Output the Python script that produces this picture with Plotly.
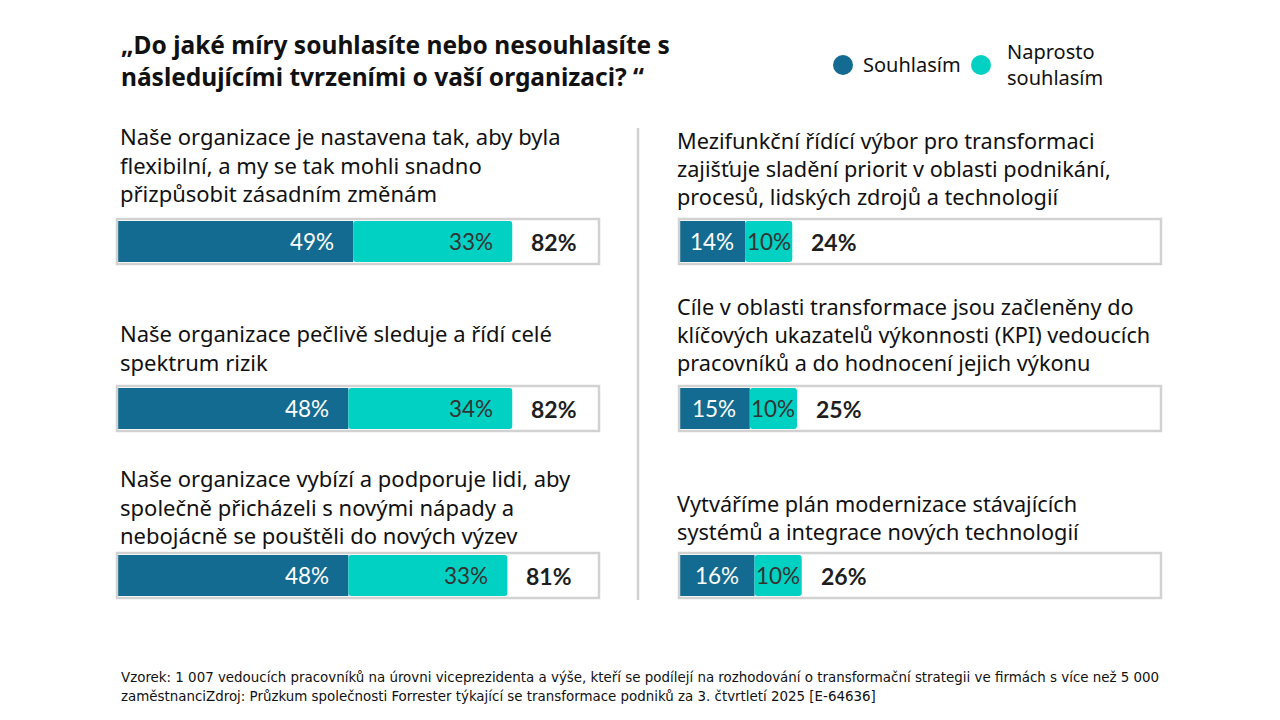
import plotly.graph_objects as go

W, H = 1280, 720

DARK = "#136b91"
TEAL = "#00d1c3"
GRID = "#d2d2d2"

title = "„Do jaké míry souhlasíte nebo nesouhlasíte s<br>následujícími tvrzeními o vaší organizaci? “"
legend_names = ["Souhlasím", "Naprosto<br>souhlasím"]

left_statements = [
    "Naše organizace je nastavena tak, aby byla<br>flexibilní, a my se tak mohli snadno<br>přizpůsobit zásadním změnám",
    "Naše organizace pečlivě sleduje a řídí celé<br>spektrum rizik",
    "Naše organizace vybízí a podporuje lidi, aby<br>společně přicházeli s novými nápady a<br>nebojácně se pouštěli do nových výzev",
]
left_agree = [49, 48, 48]
left_strong = [33, 34, 33]
left_total = [82, 82, 81]

right_statements = [
    "Mezifunkční řídící výbor pro transformaci<br>zajišťuje sladění priorit v oblasti podnikání,<br>procesů, lidských zdrojů a technologií",
    "Cíle v oblasti transformace jsou začleněny do<br>klíčových ukazatelů výkonnosti (KPI) vedoucích<br>pracovníků a do hodnocení jejich výkonu",
    "Vytváříme plán modernizace stávajících<br>systémů a integrace nových technologií",
]
right_agree = [14, 15, 16]
right_strong = [10, 10, 10]
right_total = [24, 25, 26]

footer = ("Vzorek: 1 007 vedoucích pracovníků na úrovni viceprezidenta a výše, kteří se podílejí na rozhodování "
          "o transformační strategii ve firmách s více než 5 000<br>zaměstnanciZdroj: Průzkum společnosti Forrester "
          "týkající se transformace podniků za 3. čtvrtletí 2025 [E-64636]")

rows = [0, 1, 2]

# page body has an 8px margin, so shift everything back by that much
OFF = 8


def px(x):
    return (x - OFF) / W


def py(y):
    return 1 - (y - OFF) / H


TEXT_FONT = "Noto Sans, Open Sans, sans-serif"
NUM_FONT = "Lato, Noto Sans, sans-serif"

fig = go.Figure()

panels = [
    ("x", "y", left_agree, left_strong, left_total, left_statements, [134, 331, 476], 1, 22),
    ("x2", "y2", right_agree, right_strong, right_total, right_statements, [139, 305, 502], -4, 21.7),
]

BAR_W = 41 / 167
BOX_H = 45 / 167 / 2

for xa, ya, agree, strong, total, statements, text_y, tshift, tsize in panels:
    fig.add_trace(go.Bar(y=rows, x=agree, orientation="h", marker=dict(color=DARK, line_width=0),
                         width=BAR_W, xaxis=xa, yaxis=ya, showlegend=False, hoverinfo="skip"))
    fig.add_trace(go.Bar(y=rows, x=strong, base=agree, orientation="h", marker=dict(color=TEAL, line_width=0),
                         width=BAR_W, xaxis=xa, yaxis=ya, showlegend=False, hoverinfo="skip"))
    for i in rows:
        # outline box
        fig.add_shape(type="rect", xref=xa + " domain", yref=ya, x0=0, x1=1,
                      y0=i - BOX_H, y1=i + BOX_H, line=dict(color=GRID, width=2.5), layer="above")
        # segment labels
        for start, val, color in [(0, agree[i], "white"), (agree[i], strong[i], "#333333")]:
            if val >= 20:
                ax, anchor, shift = start + val, "right", -17
            else:
                ax, anchor, shift = start + val / 2, "center", 0
            fig.add_annotation(x=ax, y=i, xref=xa, yref=ya, text=f"{val}%", showarrow=False,
                               xanchor=anchor, xshift=shift,
                               font=dict(family=NUM_FONT, size=22.5, color=color))
        fig.add_annotation(x=total[i], y=i, xref=xa, yref=ya, text=f"<b>{total[i]}%</b>", showarrow=False,
                           xanchor="left", xshift=17, font=dict(family=NUM_FONT, size=23, color="#1e1e1e"))
        # statement text
        fig.add_annotation(x=0, y=py(text_y[i] - 15), xref=xa + " domain", yref="paper",
                           text=statements[i], showarrow=False, xanchor="left", yanchor="top",
                           xshift=tshift, align="left",
                           font=dict(family=TEXT_FONT, size=tsize, color="#111111"))

# divider
fig.add_shape(type="line", xref="paper", yref="paper", x0=px(638), x1=px(638), y0=py(128), y1=py(600),
              line=dict(color=GRID, width=2.5))

# title
fig.add_annotation(x=px(119), y=py(26), xref="paper", yref="paper", text=f"<b>{title}</b>",
                   showarrow=False, xanchor="left", yanchor="top", align="left",
                   font=dict(family=TEXT_FONT, size=24.5, color="#111111"))

# legend
for cx, color, tx, name in [(843, DARK, 861, legend_names[0]), (981, TEAL, 1005, legend_names[1])]:
    fig.add_shape(type="circle", xref="paper", yref="paper", x0=px(cx - 10), x1=px(cx + 10),
                  y0=py(75), y1=py(55), fillcolor=color, line_width=0)
    fig.add_annotation(x=px(tx), y=py(65), xref="paper", yref="paper", text=name, showarrow=False,
                       xanchor="left", yanchor="middle", align="left",
                       font=dict(family=TEXT_FONT, size=20, color="#111111"))

# footer
fig.add_annotation(x=px(119), y=py(666), xref="paper", yref="paper", text=footer, showarrow=False,
                   xanchor="left", yanchor="top", align="left",
                   font=dict(family="Liberation Sans Narrow, DejaVu Sans Condensed, Noto Sans, sans-serif",
                             size=14.9, color="#111111"))

axis_common = dict(showgrid=False, zeroline=False, showticklabels=False, ticks="", fixedrange=True)
yrange = [2.5, -0.5]
fig.update_layout(
    width=W, height=H,
    margin=dict(l=0, r=0, t=0, b=0),
    paper_bgcolor="white", plot_bgcolor="white",
    barmode="overlay",
    barcornerradius=3,
    xaxis=dict(domain=[px(117), px(599)], range=[0, 100], **axis_common),
    yaxis=dict(domain=[py(659), py(158)], range=yrange, **axis_common),
    xaxis2=dict(domain=[px(679), px(1161)], range=[0, 482 / 4.72], anchor="y2", **axis_common),
    yaxis2=dict(domain=[py(659), py(158)], range=yrange, anchor="x2", **axis_common),
)

fig.write_html("out.html")
